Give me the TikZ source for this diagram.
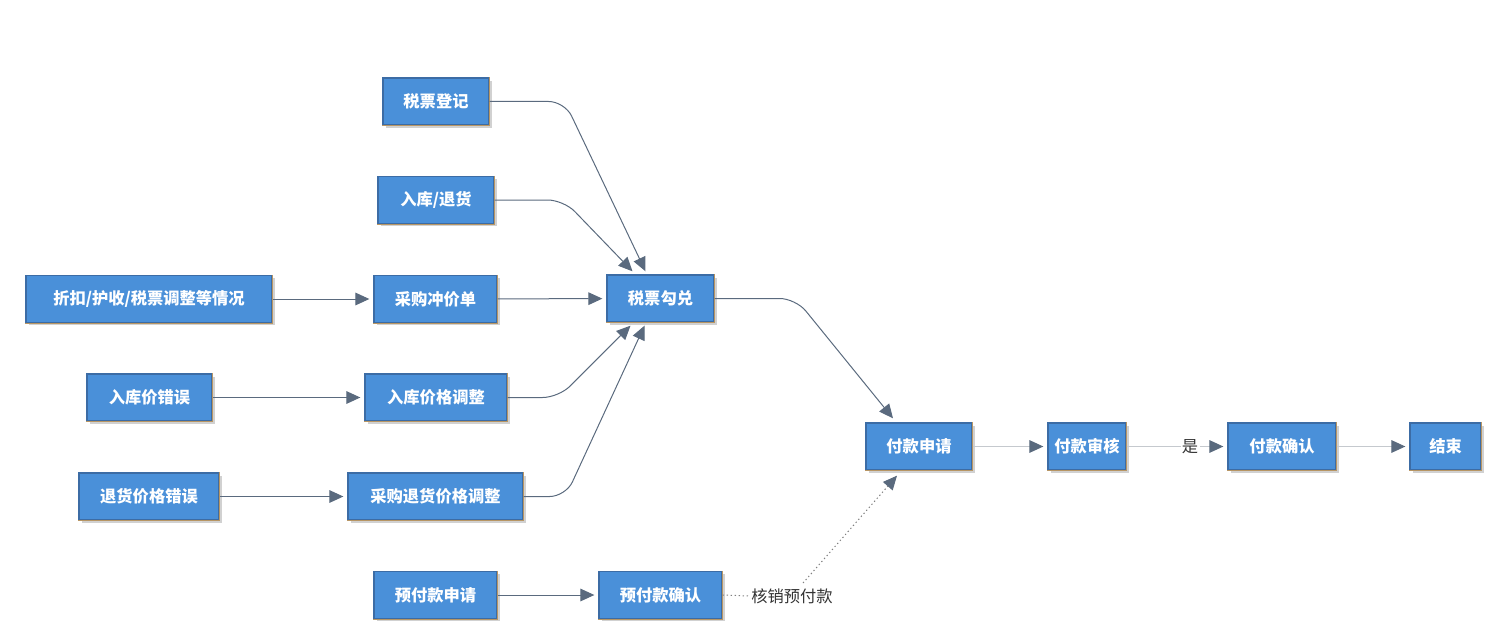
\documentclass[tikz,border=0pt]{standalone}
\usepackage{fontspec}
\setmainfont{Noto Sans CJK SC}
\usetikzlibrary{arrows.meta,calc,shadows}

\definecolor{boxfill}{RGB}{74,144,217}
\definecolor{boxblue}{RGB}{60,108,165}
\definecolor{boxtan}{RGB}{184,150,100}
\definecolor{slate}{RGB}{90,106,126}
\definecolor{lightline}{RGB}{197,201,206}
\definecolor{labeltext}{RGB}{51,51,51}

\tikzset{every picture/.style={line width=0.75pt}}
\tikzset{
  box/.style={rectangle, fill=boxfill, draw=boxblue, line width=1pt, inner sep=0pt,
    minimum height=35.25pt, text=white, font=\fontsize{12.2}{14}\selectfont\bfseries,
    drop shadow={shadow xshift=2pt, shadow yshift=-2pt, opacity=0.18, fill=black},
    append after command={(\tikzlastnode.north east) edge[draw=boxtan, line width=1pt] (\tikzlastnode.south east)
      (\tikzlastnode.south east) edge[draw=boxtan, line width=1pt] (\tikzlastnode.south west)}},
  boxw/.style={minimum width=#1*0.75pt},
  tip/.style={-{Triangle[length=10.5pt,width=9.5pt,color=slate]}},
  link/.style={tip, draw=slate, rounded corners=12pt},
  flow/.style={tip, draw=lightline, shorten >=3pt},
  note/.style={text=labeltext, font=\fontsize{12.2}{14}\selectfont, inner sep=1pt}
}

\begin{document}
\begin{tikzpicture}[x=0.75pt,y=0.75pt,yscale=-1,xscale=1]
\useasboundingbox (0,0) rectangle (1491,631);

%Shape: Rectangle [left column]
\node (zk) at (149,299) [box, boxw=246] {折扣/护收/税票调整等情况};
\node (rkjcw) at (149.5,397.5) [box, boxw=125] {入库价错误};
\node (thcw) at (149,496.5) [box, boxw=140] {退货价格错误};
%Shape: Rectangle [middle column]
\node (djx) at (436,101.5) [box, boxw=106] {税票登记};
\node (rkth) at (436,200) [box, boxw=116] {入库/退货};
\node (cgcj) at (435.5,299) [box, boxw=123] {采购冲价单};
\node (rktz) at (436,397.5) [box, boxw=142] {入库价格调整};
\node (thtz) at (435.5,496.5) [box, boxw=175] {采购退货价格调整};
\node (yfsq) at (435.5,595) [box, boxw=123] {预付款申请};
%Shape: Rectangle [right part]
\node (sggd) at (660.5,298.5) [box, boxw=107] {税票勾兑};
\node (yfqr) at (660.5,595) [box, boxw=123] {预付款确认};
\node (fksq) at (919,446.5) [box, boxw=106] {付款申请};
\node (fksh) at (1087,446.5) [box, boxw=78] {付款审核};
\node (fkqr) at (1282,446.5) [box, boxw=108] {付款确认};
\node (js) at (1445.5,446.5) [box, boxw=71] {结束};

% Text Node
\node (hx) at (792,596) [note] {核销预付款};

%Straight Lines [left to middle]
\draw [link, shorten >=3pt] (zk) -- (cgcj);
\draw [link, shorten >=3pt] (rkjcw) -- (rktz);
\draw [link, shorten >=3pt] (thcw) -- (thtz);
\draw [link, shorten >=3pt] (yfsq) -- (yfqr);
\draw [link, shorten >=3pt] (cgcj) -- (sggd);

%Curve Lines [into 税票勾兑]
\draw [link] (djx.east) -- ++(75,0) -- ($(sggd.north)+(-15,-3)$);
\draw [link] (rkth.east) -- ++(69,0) -- ($(sggd.north)+(-28,-3)$);
\draw [link] (rktz.east) -- ++(51,0) -- ($(sggd.south)+(-30,3)$);
\draw [link] (thtz.east) -- ++(42,0) -- ($(sggd.south)+(-16,3)$);
\draw [link] (sggd.east) -- ++(81,0) -- ($(fksq.north)+(-26,-4)$);

%Dotted Lines
\draw [draw=gray, dash pattern=on 1pt off 2pt] (yfqr.east) -- (hx.west);
\draw [tip, draw=gray, dash pattern=on 1pt off 2pt] ($(hx.center)+(11,-13)$) -- ($(fksq.south)+(-22,5)$);

%Straight Lines [payment flow]
\draw [flow] (fksq) -- (fksh);
\draw [flow] (fksh) -- node[note, pos=0.63, fill=white] {是} (fkqr);
\draw [flow] (fkqr) -- (js);

\end{tikzpicture}
\end{document}
